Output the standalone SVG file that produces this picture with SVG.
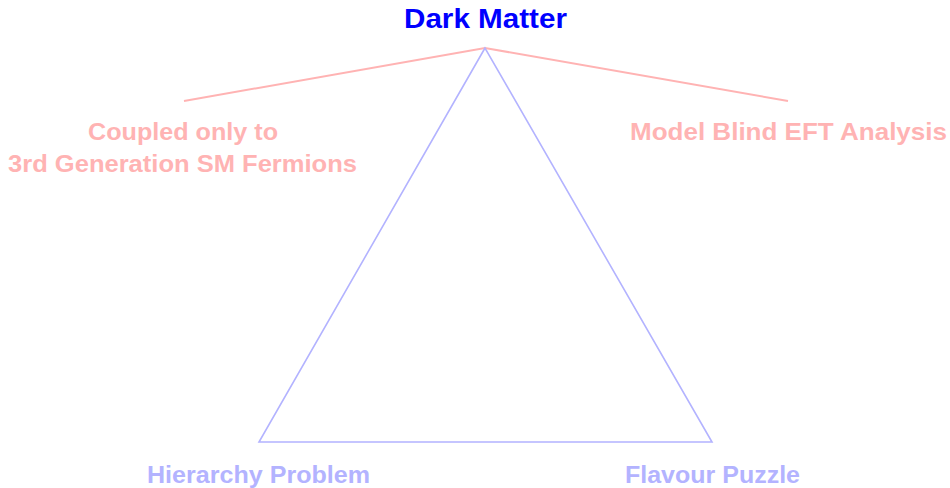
<svg xmlns="http://www.w3.org/2000/svg" width="950" height="488" viewBox="0 0 950 488">
<style>
text{font-family:"Liberation Sans",Arial,sans-serif;font-weight:bold;text-anchor:middle}
.title{font-size:28px;fill:#0000ff}
.red{font-size:24.5px;fill:#ffb3b3}
.blue{font-size:24.5px;fill:#b3b3ff}
.rl{stroke:#ffb3b3;stroke-width:2;fill:none}
.bl{stroke:#b3b3ff;stroke-width:1.6;fill:none;stroke-linejoin:miter}
</style>
<rect width="950" height="488" fill="#ffffff"/>
<g id="connectors">
<polyline class="rl" points="184,101 485,48 788,101"/>
<polygon class="bl" points="485,48 259,442 712,442"/>
</g>
<g id="dark-matter"><text class="title" x="485.5" y="28" textLength="163" lengthAdjust="spacingAndGlyphs">Dark Matter</text></g>
<g id="coupled">
<text class="red" x="183" y="140" textLength="190" lengthAdjust="spacingAndGlyphs">Coupled only to</text>
<text class="red" x="182.5" y="172" textLength="349" lengthAdjust="spacingAndGlyphs">3rd Generation SM Fermions</text>
</g>
<g id="model-blind"><text class="red" x="788.5" y="140" textLength="317" lengthAdjust="spacingAndGlyphs">Model Blind EFT Analysis</text></g>
<g id="hierarchy"><text class="blue" x="258.5" y="483" textLength="223" lengthAdjust="spacingAndGlyphs">Hierarchy Problem</text></g>
<g id="flavour"><text class="blue" x="712.5" y="483" textLength="175" lengthAdjust="spacingAndGlyphs">Flavour Puzzle</text></g>
</svg>
